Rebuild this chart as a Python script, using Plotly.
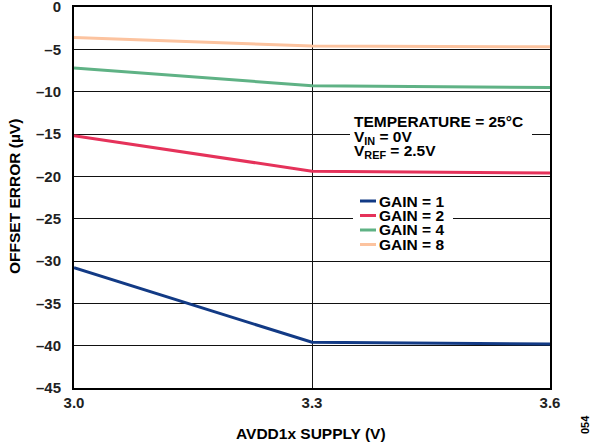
import plotly.graph_objects as go

supply = [3.0, 3.3, 3.6]
gain1 = [-30.8, -39.6, -39.8]
gain2 = [-15.2, -19.4, -19.6]
gain4 = [-7.2, -9.3, -9.5]
gain8 = [-3.6, -4.6, -4.7]
series_names = ["GAIN = 1", "GAIN = 2", "GAIN = 4", "GAIN = 8"]
colors = ["#123a85", "#e5325a", "#5fb285", "#fcc39f"]
y_ticks = [0, -5, -10, -15, -20, -25, -30, -35, -40, -45]
y_ticktext = ["0", "–5", "–10", "–15", "–20", "–25", "–30", "–35", "–40", "–45"]
x_ticks = [3.0, 3.3, 3.6]
x_ticktext = ["3.0", "3.3", "3.6"]
note_lines = ["TEMPERATURE = 25°C", "V<sub>IN</sub> = 0V", "V<sub>REF</sub> = 2.5V"]

FONT = "Liberation Sans, Arial, sans-serif"
W, H = 598, 446
L, R, T, B = 74, 550, 7, 388

def px(x):
    return (x - L) / (R - L)

def py(y):
    return (B - y) / (B - T)

def bold(size, color="black"):
    return dict(family=FONT, size=size, color=color, weight="bold")

fig = go.Figure()
for name, vals, c in zip(series_names, [gain1, gain2, gain4, gain8], colors):
    fig.add_trace(go.Scatter(x=supply, y=vals, mode="lines", name=name,
                             line=dict(color=c, width=3), showlegend=False,
                             hoverinfo="skip"))

shapes = []
annotations = []
# white boxes behind legend and note
shapes.append(dict(type="rect", xref="paper", yref="paper", x0=px(353), x1=px(453),
                   y0=py(252), y1=py(192), fillcolor="white", line=dict(width=0), layer="above"))
shapes.append(dict(type="rect", xref="paper", yref="paper", x0=px(350), x1=px(532),
                   y0=py(160), y1=py(112), fillcolor="white", line=dict(width=0), layer="above"))
rows = [201, 215.5, 230, 244.5]
for name, c, ry in zip(series_names, colors, rows):
    shapes.append(dict(type="line", xref="paper", yref="paper", x0=px(360), x1=px(376),
                       y0=py(ry), y1=py(ry), line=dict(color=c, width=3), layer="above"))
    annotations.append(dict(xref="paper", yref="paper", x=px(377), y=py(ry), xanchor="left",
                            yanchor="middle", showarrow=False, text=name, font=bold(15.5)))

for txt, ry in zip(note_lines, [121, 137, 151.5]):
    annotations.append(dict(xref="paper", yref="paper", x=px(352), y=py(ry), xanchor="left",
                            yanchor="middle", showarrow=False, align="left", text=txt,
                            font=bold(15.5)))

annotations.append(dict(xref="paper", yref="paper", x=px(311), y=py(433), xanchor="center",
                        yanchor="middle", showarrow=False, text="AVDD1x SUPPLY (V)",
                        font=bold(15.5)))
annotations.append(dict(xref="paper", yref="paper", x=px(14), y=py(197), xanchor="center",
                        yanchor="middle", showarrow=False, text="OFFSET ERROR (µV)",
                        textangle=-90, font=bold(15.5)))
annotations.append(dict(xref="paper", yref="paper", x=px(585), y=py(425), xanchor="center",
                        yanchor="middle", showarrow=False, text="054", textangle=-90,
                        font=dict(family=FONT, size=11, color="black")))

fig.update_layout(
    width=W, height=H,
    margin=dict(l=L, r=W - R, t=T, b=H - B, pad=0),
    paper_bgcolor="white", plot_bgcolor="white",
    font=bold(14),
    shapes=shapes, annotations=annotations,
    xaxis=dict(range=[3.0, 3.6], tickvals=x_ticks, ticktext=x_ticktext,
               showgrid=True, gridcolor="#111", gridwidth=1,
               showline=True, linecolor="black", linewidth=2, mirror=True,
               ticks="", zeroline=False, automargin=False, ticklabeloverflow="allow",
               tickfont=bold(15, "#222")),
    yaxis=dict(range=[-45, 0], tickvals=y_ticks, ticktext=y_ticktext,
               showgrid=True, gridcolor="#111", gridwidth=1,
               showline=True, linecolor="black", linewidth=2, mirror=True,
               ticks="", zeroline=False, automargin=False, ticklabeloverflow="allow",
               tickfont=bold(15, "#222"), ticklabelstandoff=8),
)

fig.write_html("out.html", config={"displayModeBar": False},
               post_script="document.body.style.margin='0';document.body.style.padding='0';")
